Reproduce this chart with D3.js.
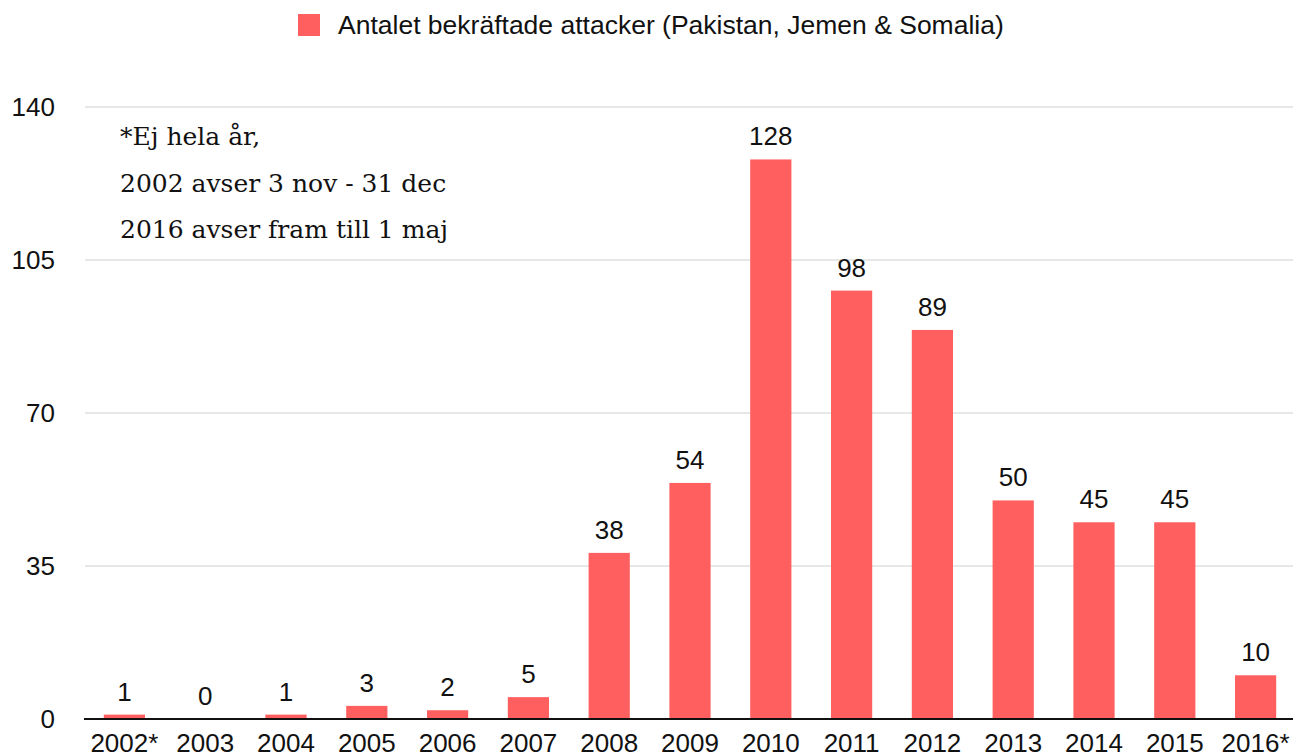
<!DOCTYPE html>
<html>
<head>
<meta charset="utf-8">
<script src="https://d3js.org/d3.v7.min.js"></script>
<style>
  body { margin: 0; background: #fff; }
  svg { display: block; }
</style>
</head>
<body>
<div id="chart"></div>
<script>
// data
const years = ["2002*", "2003", "2004", "2005", "2006", "2007", "2008", "2009",
               "2010", "2011", "2012", "2013", "2014", "2015", "2016*"];
const attacks = [1, 0, 1, 3, 2, 5, 38, 54, 128, 98, 89, 50, 45, 45, 10];
const yTicks = [0, 35, 70, 105, 140];
const legendLabel = "Antalet bekräftade attacker (Pakistan, Jemen & Somalia)";
const noteLines = ["*Ej hela år,", "2002 avser 3 nov - 31 dec", "2016 avser fram till 1 maj"];

const width = 1293, height = 756;
const margin = {top: 107, right: 0, bottom: 37, left: 84};
const barColor = "#ff5f5f";
const sans = "Helvetica, 'Liberation Sans', Arial, sans-serif";
const fs = 26;

const svg = d3.select("#chart").append("svg")
  .attr("width", width)
  .attr("height", height);

const x = d3.scaleBand()
  .domain(years)
  .range([margin.left, 1296])
  .paddingInner(0.49)
  .paddingOuter(0.245);

const y = d3.scaleLinear()
  .domain([0, 140])
  .range([height - margin.bottom, margin.top]);

// gridlines + y labels
const grid = svg.append("g");
grid.selectAll("line")
  .data(yTicks.filter(d => d > 0))
  .join("line")
  .attr("x1", margin.left + 1).attr("x2", width)
  .attr("y1", d => y(d)).attr("y2", d => y(d))
  .attr("stroke", "#cfcfcf")
  .attr("stroke-width", 1);

grid.selectAll("text")
  .data(yTicks)
  .join("text")
  .attr("x", 55)
  .attr("y", d => y(d))
  .attr("dy", "0.35em")
  .attr("text-anchor", "end")
  .attr("font-family", sans)
  .attr("font-size", fs)
  .attr("fill", "#111")
  .text(d => d);

// bars
svg.append("g")
  .selectAll("rect")
  .data(attacks)
  .join("rect")
  .attr("x", (d, i) => x(years[i]))
  .attr("width", x.bandwidth())
  .attr("y", d => y(d))
  .attr("height", d => y(0) - y(d))
  .attr("fill", barColor);

// value labels
svg.append("g")
  .selectAll("text")
  .data(attacks)
  .join("text")
  .attr("x", (d, i) => x(years[i]) + x.bandwidth() / 2)
  .attr("y", d => y(d) - 14)
  .attr("text-anchor", "middle")
  .attr("font-family", sans)
  .attr("font-size", fs)
  .attr("fill", "#111")
  .text(d => d);

// baseline
svg.append("line")
  .attr("x1", margin.left).attr("x2", width)
  .attr("y1", y(0)).attr("y2", y(0))
  .attr("stroke", "#111")
  .attr("stroke-width", 2);

// x axis labels
svg.append("g")
  .selectAll("text")
  .data(years)
  .join("text")
  .attr("x", d => x(d) + x.bandwidth() / 2)
  .attr("y", 752)
  .attr("text-anchor", "middle")
  .attr("font-family", sans)
  .attr("font-size", fs)
  .attr("fill", "#111")
  .text(d => d);

// legend
const legend = svg.append("g");
legend.append("rect")
  .attr("x", 298).attr("y", 14)
  .attr("width", 22).attr("height", 22)
  .attr("fill", barColor);
legend.append("text")
  .attr("x", 338).attr("y", 34)
  .attr("font-family", sans)
  .attr("font-size", 26.5)
  .attr("fill", "#111")
  .text(legendLabel);

// note
svg.append("g")
  .selectAll("text")
  .data(noteLines)
  .join("text")
  .attr("x", 120)
  .attr("y", (d, i) => 145 + i * 46.5)
  .attr("font-family", "Georgia, 'DejaVu Serif', serif")
  .attr("font-size", 25)
  .attr("fill", "#111")
  .text(d => d);
</script>
</body>
</html>
